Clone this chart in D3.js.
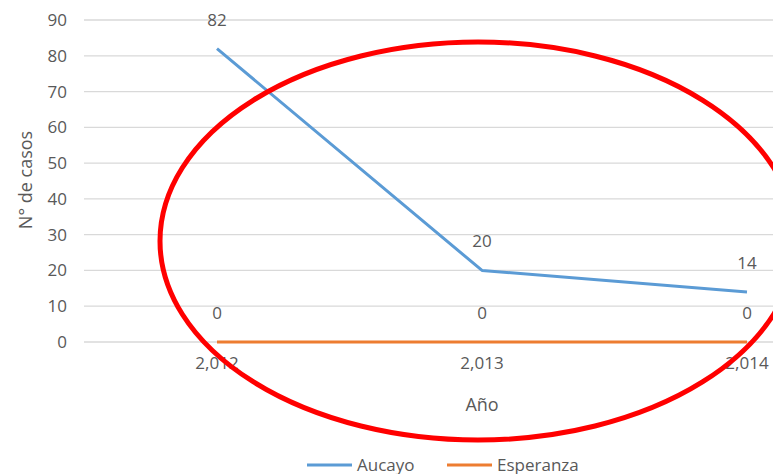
<!DOCTYPE html>
<html>
<head>
<meta charset="utf-8">
<script src="https://cdn.jsdelivr.net/npm/d3@7"></script>
<style>
  body { margin: 0; background: #fff; }
  svg text { font-family: "Open Sans", sans-serif; fill: #595959; }
</style>
</head>
<body>
<div id="chart"></div>
<script>
// valeurs
const years = ["2,012", "2,013", "2,014"];
const aucayo = [82, 20, 14];
const esperanza = [0, 0, 0];
const yTicks = [0, 10, 20, 30, 40, 50, 60, 70, 80, 90];
const seriesNames = ["Aucayo", "Esperanza"];

const W = 773, H = 474;
const colors = { "Aucayo": "#5b9bd5", "Esperanza": "#ed7d31" };

const svg = d3.select("#chart").append("svg")
    .attr("width", W)
    .attr("height", H);

// zone de tracé (coupée à droite comme l'original)
const x = d3.scaleBand()
    .domain(years)
    .range([84.5, 879.5]);

const y = d3.scaleLinear()
    .domain([0, 90])
    .range([342, 20]);

const cx = d => x(d) + x.bandwidth() / 2;

// grille
svg.append("g")
    .selectAll("line")
    .data(yTicks)
    .enter().append("line")
    .attr("x1", 84)
    .attr("x2", W)
    .attr("y1", d => y(d))
    .attr("y2", d => y(d))
    .attr("stroke", "#d9d9d9")
    .attr("stroke-width", 1.3);

// axe Y
const yAxis = svg.append("g")
    .attr("transform", "translate(67,0)")
    .call(d3.axisLeft(y).tickValues(yTicks).tickSize(0).tickPadding(0));
yAxis.select(".domain").remove();
yAxis.selectAll("text")
    .style("font-size", "17px")
    .style("font-family", "'Open Sans', sans-serif")
    .attr("fill", "#595959");

// axe X
const xAxis = svg.append("g")
    .attr("transform", "translate(0,357)")
    .call(d3.axisBottom(x).tickSize(0).tickPadding(0));
xAxis.select(".domain").remove();
xAxis.selectAll("text")
    .style("font-size", "17px")
    .style("font-family", "'Open Sans', sans-serif")
    .attr("fill", "#595959");

// lignes
const line = d3.line()
    .x(d => cx(d.year))
    .y(d => y(d.value));

const series = [
    { name: "Aucayo", values: years.map((yr, i) => ({ year: yr, value: aucayo[i] })) },
    { name: "Esperanza", values: years.map((yr, i) => ({ year: yr, value: esperanza[i] })) }
];

series.forEach(s => {
    svg.append("path")
        .datum(s.values)
        .attr("fill", "none")
        .attr("stroke", colors[s.name])
        .attr("stroke-width", 3)
        .attr("stroke-linejoin", "round")
        .attr("d", line);

    svg.append("g")
        .selectAll("text")
        .data(s.values)
        .enter().append("text")
        .attr("x", d => cx(d.year))
        .attr("y", d => y(d.value) - 29)
        .attr("dy", "0.35em")
        .attr("text-anchor", "middle")
        .style("font-size", "17px")
        .text(d => d.value);
});

// titres des axes
svg.append("text")
    .attr("x", 482)
    .attr("y", 405)
    .attr("dy", "0.35em")
    .attr("text-anchor", "middle")
    .style("font-size", "18px")
    .text("Año");

svg.append("text")
    .attr("transform", "translate(26,180) rotate(-90)")
    .attr("dy", "0.35em")
    .attr("text-anchor", "middle")
    .style("font-size", "18px")
    .text("N° de casos");

// légende
const legendX = [307, 447];
const legend = svg.selectAll(".legend")
    .data(seriesNames)
    .enter().append("g")
    .attr("class", "legend")
    .attr("transform", (d, i) => `translate(${legendX[i]},465)`);

legend.append("line")
    .attr("x1", 0)
    .attr("x2", 45)
    .attr("stroke", d => colors[d])
    .attr("stroke-width", 3);

legend.append("text")
    .attr("x", 50)
    .attr("dy", "0.35em")
    .style("font-size", "17px")
    .text(d => d);

// ellipse rouge (annotation)
svg.append("ellipse")
    .attr("cx", 478)
    .attr("cy", 241)
    .attr("rx", 318)
    .attr("ry", 199)
    .attr("fill", "none")
    .attr("stroke", "#ff0000")
    .attr("stroke-width", 5);
</script>
</body>
</html>
